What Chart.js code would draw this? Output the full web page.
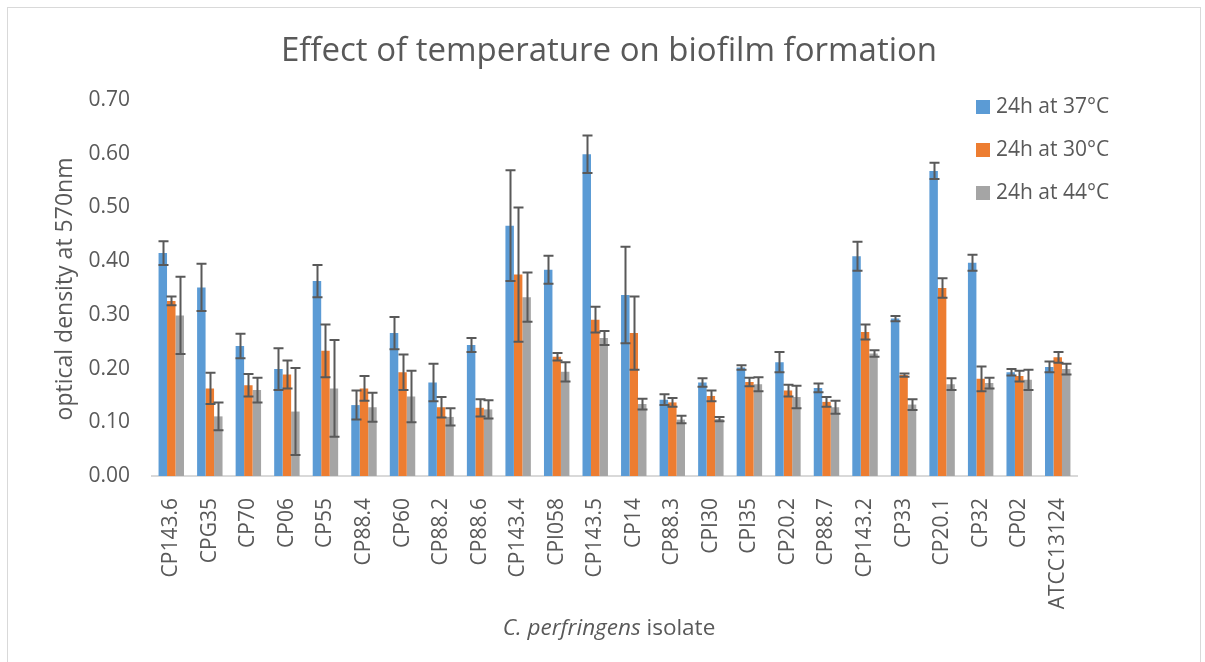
<!DOCTYPE html>
<html lang="en">
<head>
  <meta charset="UTF-8">
  <title>Effect of temperature on biofilm formation</title>
  <script src="https://cdn.jsdelivr.net/npm/chart.js"></script>
  <style>
    html, body {
      margin: 0;
      padding: 0;
      background: #fff;
      overflow: hidden;
    }
    .frame {
      position: absolute;
      left: 7px;
      top: 7px;
      width: 1192px;
      height: 720px;
      border: 1px solid #d9d9d9;
    }
    #biofilm {
      position: absolute;
      left: 0;
      top: 0;
    }
  </style>
</head>
<body>
<div class="frame"></div>
<canvas id="biofilm" width="1205" height="662"></canvas>

<script>
const isolates = ["CP143.6", "CPG35", "CP70", "CP06", "CP55", "CP88.4", "CP60", "CP88.2", "CP88.6",
  "CP143.4", "CPI058", "CP143.5", "CP14", "CP88.3", "CPI30", "CPI35", "CP20.2", "CP88.7",
  "CP143.2", "CP33", "CP20.1", "CP32", "CP02", "ATCC13124"];

const od37 = [0.415, 0.351, 0.242, 0.199, 0.363, 0.132, 0.266, 0.174, 0.244, 0.466, 0.384, 0.599,
  0.337, 0.142, 0.174, 0.202, 0.212, 0.164, 0.409, 0.293, 0.568, 0.397, 0.193, 0.203];
const err37 = [0.022, 0.044, 0.023, 0.039, 0.030, 0.027, 0.030, 0.035, 0.013, 0.103, 0.026, 0.035,
  0.090, 0.010, 0.008, 0.004, 0.019, 0.008, 0.027, 0.005, 0.015, 0.015, 0.006, 0.010];

const od30 = [0.326, 0.163, 0.169, 0.189, 0.233, 0.163, 0.193, 0.128, 0.127, 0.375, 0.222, 0.291,
  0.266, 0.137, 0.149, 0.175, 0.159, 0.138, 0.268, 0.188, 0.350, 0.181, 0.186, 0.221];
const err30 = [0.008, 0.029, 0.021, 0.026, 0.049, 0.023, 0.033, 0.019, 0.016, 0.125, 0.007, 0.024,
  0.068, 0.008, 0.010, 0.008, 0.011, 0.009, 0.014, 0.003, 0.018, 0.023, 0.010, 0.010];

const od44 = [0.299, 0.111, 0.160, 0.120, 0.163, 0.128, 0.148, 0.110, 0.124, 0.333, 0.194, 0.257,
  0.134, 0.105, 0.106, 0.171, 0.147, 0.128, 0.228, 0.133, 0.171, 0.173, 0.179, 0.199];
const err44 = [0.072, 0.026, 0.023, 0.081, 0.090, 0.027, 0.048, 0.016, 0.017, 0.046, 0.018, 0.013,
  0.010, 0.007, 0.004, 0.013, 0.021, 0.012, 0.006, 0.010, 0.011, 0.010, 0.019, 0.010];

const seriesNames = ["24h at 37°C", "24h at 30°C", "24h at 44°C"];
const seriesColors = ["#5B9BD5", "#ED7D31", "#A5A5A5"];
const seriesErrors = [err37, err30, err44];

const yTicks = [0, 0.1, 0.2, 0.3, 0.4, 0.5, 0.6, 0.7];

const chartTitle = "Effect of temperature on biofilm formation";
const yTitle = "optical density at 570nm";
const xTitleItalic = "C. perfringens";
const xTitleRest = " isolate";

const textColor = "#595959";
const fontFamily = "'Open Sans', 'DejaVu Sans', sans-serif";

// standard deviation whiskers on top of each bar
const errorBars = {
  id: "errorBars",
  afterDatasetsDraw(chart) {
    const ctx = chart.ctx;
    const y = chart.scales.y;
    ctx.save();
    ctx.strokeStyle = "#595959";
    ctx.lineWidth = 2;
    chart.data.datasets.forEach((ds, i) => {
      const meta = chart.getDatasetMeta(i);
      meta.data.forEach((bar, j) => {
        const v = ds.data[j];
        const e = seriesErrors[i][j];
        const top = y.getPixelForValue(v + e);
        const bot = y.getPixelForValue(v - e);
        const x = Math.round(bar.x) + 0.5;
        ctx.beginPath();
        ctx.moveTo(x, top);
        ctx.lineTo(x, bot);
        ctx.moveTo(x - 5, top);
        ctx.lineTo(x + 5, top);
        ctx.moveTo(x - 5, bot);
        ctx.lineTo(x + 5, bot);
        ctx.stroke();
      });
    });
    ctx.restore();
  }
};

// title, axis titles and legend
const decorations = {
  id: "decorations",
  afterDraw(chart) {
    const ctx = chart.ctx;
    ctx.save();
    ctx.fillStyle = textColor;
    ctx.textBaseline = "middle";

    ctx.font = "33px " + fontFamily;
    ctx.textAlign = "center";
    ctx.fillText(chartTitle, 609, 52);

    ctx.font = "23px " + fontFamily;
    ctx.save();
    ctx.translate(65, 289);
    ctx.rotate(-Math.PI / 2);
    ctx.fillText(yTitle, 0, 0);
    ctx.restore();

    ctx.textAlign = "left";
    ctx.font = "italic 22.5px " + fontFamily;
    const w1 = ctx.measureText(xTitleItalic).width;
    ctx.font = "22.5px " + fontFamily;
    const w2 = ctx.measureText(xTitleRest).width;
    const x0 = 609 - (w1 + w2) / 2;
    ctx.font = "italic 22.5px " + fontFamily;
    ctx.fillText(xTitleItalic, x0, 629);
    ctx.font = "22.5px " + fontFamily;
    ctx.fillText(xTitleRest, x0 + w1, 629);

    ctx.font = "21px " + fontFamily;
    seriesNames.forEach((name, i) => {
      const cy = 107 + i * 43;
      ctx.fillStyle = seriesColors[i];
      ctx.fillRect(976, cy - 7, 14, 14);
      ctx.fillStyle = textColor;
      ctx.fillText(name, 996, cy);
    });
    ctx.restore();
  }
};

new Chart(document.getElementById("biofilm"), {
  type: "bar",
  data: {
    labels: isolates,
    datasets: [od37, od30, od44].map((d, i) => ({
      label: seriesNames[i],
      data: d,
      backgroundColor: seriesColors[i],
      borderWidth: 0,
      barPercentage: 1,
      categoryPercentage: 0.66
    }))
  },
  options: {
    responsive: false,
    animation: false,
    layout: { padding: { top: 100, right: 128, left: 0, bottom: 0 } },
    plugins: {
      legend: { display: false },
      title: { display: false },
      tooltip: { enabled: false }
    },
    scales: {
      x: {
        grid: { display: false },
        border: { display: true, color: "#d9d9d9", width: 2 },
        ticks: {
          autoSkip: false,
          minRotation: 90,
          maxRotation: 90,
          padding: 14,
          color: textColor,
          font: { family: fontFamily, size: 21 }
        },
        afterFit(scale) { scale.height = 186; }
      },
      y: {
        min: 0,
        max: 0.7,
        grid: { display: false },
        border: { display: false },
        afterBuildTicks(scale) { scale.ticks = yTicks.map(v => ({ value: v })); },
        ticks: {
          padding: 14,
          color: textColor,
          font: { family: fontFamily, size: 21 },
          callback: v => v.toFixed(2)
        },
        afterFit(scale) { scale.width = 152; }
      }
    }
  },
  plugins: [errorBars, decorations]
});
</script>
</body>
</html>
